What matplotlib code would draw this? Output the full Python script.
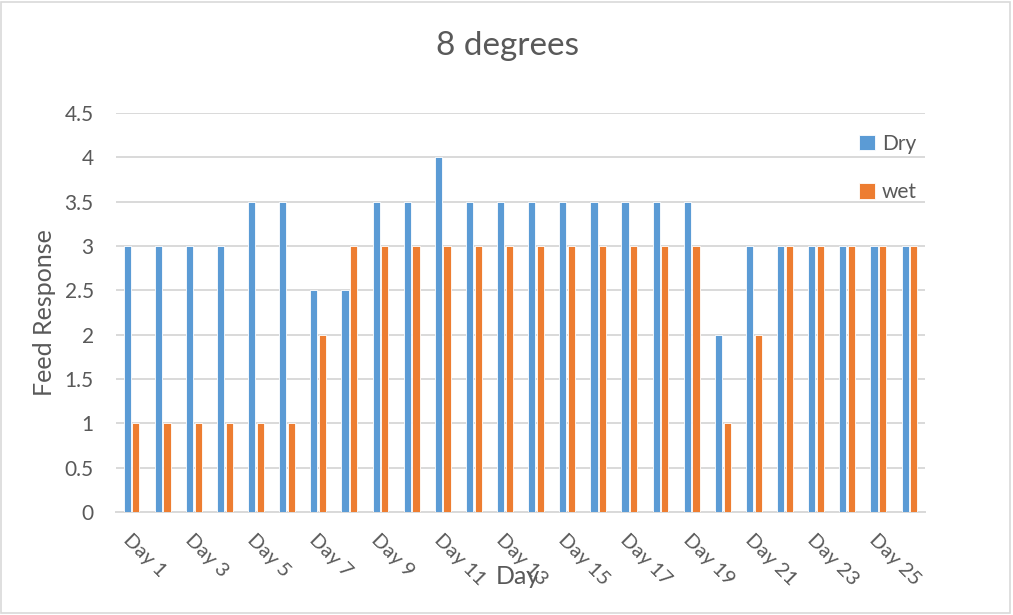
import matplotlib.pyplot as plt
import numpy as np
from matplotlib.patches import Rectangle

plt.rcParams['font.family'] = ['Lato', 'DejaVu Sans']

days = ["Day %d" % i for i in range(1, 27)]
dry = [3, 3, 3, 3, 3.5, 3.5, 2.5, 2.5, 3.5, 3.5, 4, 3.5, 3.5, 3.5, 3.5, 3.5,
       3.5, 3.5, 3.5, 2, 3, 3, 3, 3, 3, 3]
wet = [1, 1, 1, 1, 1, 1, 2, 3, 3, 3, 3, 3, 3, 3, 3, 3,
       3, 3, 3, 1, 2, 3, 3, 3, 3, 3]
yticks = [0, 0.5, 1, 1.5, 2, 2.5, 3, 3.5, 4, 4.5]

text_col = '#595959'
grid_col = '#d9d9d9'

fig = plt.figure(figsize=(10.13, 6.15), dpi=100)
ax = fig.add_axes([116 / 1013, 103 / 615, 809 / 1013, 399 / 615])

x = np.arange(len(days))
w = 0.23
ax.bar(x - 0.14, dry, w, color='#5B9BD5', edgecolor='white', linewidth=0.6, label='Dry', zorder=3)
ax.bar(x + 0.14, wet, w, color='#ED7D31', edgecolor='white', linewidth=0.6, label='wet', zorder=3)

ax.set_xlim(-0.5, len(days) - 0.5)
ax.set_ylim(0, 4.5)
ax.set_yticks(yticks)
ax.set_yticklabels([('%g' % v) for v in yticks], fontsize=15, color=text_col)
ax.yaxis.grid(True, color=grid_col, linewidth=1.4, zorder=0)
ax.tick_params(axis='both', length=0)
ax.tick_params(axis='y', pad=16)

ax.set_xticks(x[::2])
ax.set_xticklabels(days[::2], rotation=-45, ha='left', va='top',
                   rotation_mode='anchor', fontsize=14.5, color=text_col)
ax.tick_params(axis='x', pad=14)

for s in ['top', 'right', 'left']:
    ax.spines[s].set_visible(False)
ax.spines['bottom'].set_color(grid_col)
ax.spines['bottom'].set_linewidth(1.4)

ax.set_ylabel('Feed Response', fontsize=18, color=text_col, labelpad=6)
fig.text(518 / 1013, 1 - 576 / 615, 'Day', fontsize=18, color=text_col,
         ha='center', va='center')
fig.text(507 / 1013, 1 - 46 / 615, '8 degrees', fontsize=24, color=text_col,
         ha='center', va='center')

leg = ax.legend(loc='upper left', bbox_to_anchor=(724 / 809, 0.995), frameon=False,
                fontsize=15, labelcolor=text_col, handlelength=0.8, handleheight=0.8,
                handletextpad=0.3, labelspacing=1.35)

fig.patches.append(Rectangle((0.001, 0.003), 0.996, 0.994, transform=fig.transFigure,
                             fill=False, edgecolor='#d9d9d9', linewidth=1.2))

fig.savefig('out.png', dpi=100)
